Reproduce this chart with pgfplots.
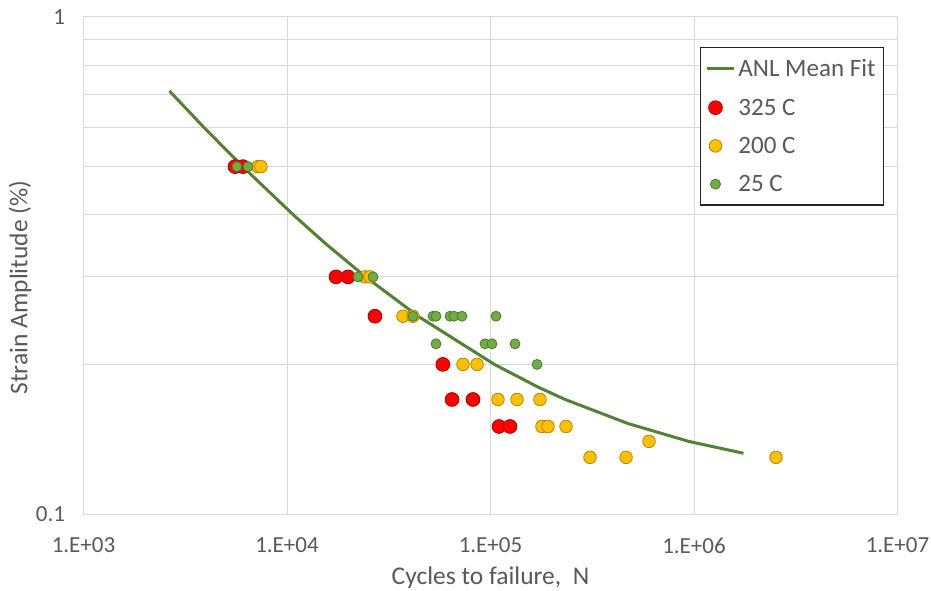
\documentclass[border=0pt]{standalone}
\usepackage{fontspec}
\setmainfont{Carlito}
\usepackage{pgfplots}
\pgfplotsset{compat=1.18}
\usetikzlibrary{calc}
\definecolor{txt}{HTML}{595959}
\definecolor{gridc}{HTML}{D9D9D9}
\definecolor{fitc}{HTML}{548235}
\definecolor{rfill}{HTML}{FF0000}
\definecolor{rdraw}{HTML}{B00000}
\definecolor{yfill}{HTML}{FFC000}
\definecolor{ydraw}{HTML}{B08800}
\definecolor{gfill}{HTML}{70AD47}
\definecolor{gdraw}{HTML}{4E7A30}
\begin{document}
\begin{tikzpicture}
\begin{axis}[name=ax,
  xmode=log, ymode=log,
  scale only axis, width=814pt, height=497pt,
  xmin=1e3, xmax=1e7, ymin=0.1, ymax=1,
  xtick={1e3,1e4,1e5,1e6,1e7},
  xticklabels={1.E+03,1.E+04,1.E+05,1.E+06,1.E+07},
  ytick={0.1,1}, yticklabels={0.1,1},
  minor xtick={},
  minor ytick={0.2,0.3,0.4,0.5,0.6,0.7,0.8,0.9},
  xmajorgrids, ymajorgrids, yminorgrids,
  major grid style={draw=gridc, line width=1pt},
  minor grid style={draw=gridc, line width=1pt},
  major tick length=0pt, minor tick length=0pt,
  axis line style={draw=gridc, line width=1pt},
  /pgf/number format/assume math mode=true,
  tick label style={font=\fontsize{23}{27}\selectfont, text=txt},
  xticklabel style={yshift=-20pt},
  yticklabel style={xshift=-15pt},
  xlabel={Cycles to failure,\ \ N},
  ylabel={Strain Amplitude (\%)},
  label style={font=\fontsize{25.5}{30}\selectfont, text=txt},
  xlabel style={at={(rel axis cs:0.5,0)}, anchor=center, yshift=-64pt},
  ylabel style={at={(rel axis cs:-0.078,0.4557)}, anchor=center},
  legend style={at={(0.9834,0.9396)}, anchor=north east, draw=black!85, line width=1.2pt,
    font=\fontsize{25}{30}\selectfont, text=txt, row sep=14.5pt, inner xsep=5pt, inner ysep=9pt,
    nodes={inner sep=3pt}},
  legend cell align=left,
  clip=false,
]
\addplot[fitc, line width=3pt, mark=none,
  legend image code/.code={\draw[fitc, line width=3pt] (0pt,0pt) -- (27pt,0pt);}]
  coordinates {
  (2643,0.71) (3901,0.6) (6058,0.5) (10730,0.4) (15470,0.35) (24330,0.3)
  (44060,0.25) (104500,0.2) (171500,0.18) (232700,0.17) (475400,0.152)
  (942000,0.14) (1750000,0.1325)
  };
\addlegendentry{ANL Mean Fit}
\addplot[only marks, mark=*, mark size=6.9pt, mark options={fill=rfill, draw=rdraw, line width=0.8pt}]
  coordinates {
  (5553,0.5) (6078,0.5)
  (17410,0.3) (19940,0.3)
  (27050,0.25)
  (58340,0.2)
  (64690,0.17) (82030,0.17)
  (110100,0.15) (124700,0.15)
  };
\addlegendentry{325 C}
\addplot[only marks, mark=*, mark size=6.3pt, mark options={fill=yfill, draw=ydraw, line width=0.8pt}]
  coordinates {
  (7202,0.5) (7447,0.5)
  (24160,0.3) (25580,0.3)
  (37150,0.25) (41590,0.25)
  (73250,0.2) (85880,0.2)
  (108800,0.17) (135000,0.17) (175000,0.17)
  (179000,0.15) (191700,0.15) (235000,0.15)
  (601000,0.14)
  (308300,0.13) (463500,0.13) (2529000,0.13)
  };
\addlegendentry{200 C}
\addplot[only marks, mark=*, mark size=5pt, mark options={fill=gfill, draw=gdraw, line width=0.8pt}]
  coordinates {
  (5675,0.5) (6430,0.5)
  (22330,0.3) (26470,0.3)
  (41590,0.25) (52150,0.25) (53970,0.25) (63240,0.25) (66190,0.25) (72420,0.25) (106400,0.25)
  (53970,0.22) (93970,0.22) (101700,0.22) (131900,0.22)
  (169300,0.2)
  };
\addlegendentry{25 C}
\end{axis}
\pgfresetboundingbox
\path[use as bounding box] ($(ax.south west)+(-83.5pt,-77pt)$) rectangle ($(ax.north east)+(33.5pt,17pt)$);
\end{tikzpicture}
\end{document}
